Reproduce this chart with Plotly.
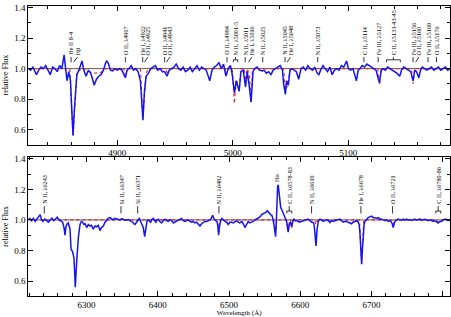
import plotly.graph_objects as go

# ---------------- data: top panel (4820-5190 A) ----------------
wl_top = [4823, 4825, 4827, 4829, 4830, 4832, 4834, 4836, 4838, 4840, 4842, 4844, 4846, 4848, 4850,
          4852, 4854, 4855, 4856.5, 4858, 4859.5, 4860.5, 4861.7, 4862.8, 4864, 4865, 4866.5, 4868,
          4869.5, 4871, 4873, 4875, 4877, 4879, 4880, 4882, 4884, 4886, 4888, 4890, 4891, 4892.5,
          4894, 4896, 4898, 4900, 4902, 4904, 4906, 4907, 4908.5, 4910, 4912, 4914, 4916, 4918,
          4920, 4921, 4922.2, 4923.5, 4925, 4927, 4929, 4931, 4933, 4935, 4937, 4939, 4941, 4943,
          4945, 4947, 4949, 4951, 4953, 4955, 4957, 4959, 4961, 4963, 4965, 4967, 4969, 4971, 4973,
          4975, 4977, 4980, 4982, 4984, 4986, 4988, 4990, 4992, 4994, 4996, 4998, 4999.5, 5001.4,
          5003, 5005.5, 5007, 5009, 5011, 5012.5, 5014, 5015.8, 5017.5, 5019, 5021, 5023, 5025.5,
          5027, 5029, 5031, 5033, 5035, 5037, 5039, 5041, 5043, 5044, 5045.5, 5046.5, 5048, 5049.5,
          5051, 5053, 5055, 5057, 5059, 5061, 5063, 5065, 5067, 5069, 5071, 5073, 5074.5, 5076, 5078,
          5080, 5082, 5084, 5086, 5088, 5090, 5092, 5094, 5096, 5098.5, 5100, 5102, 5104, 5106, 5107,
          5108.5, 5110, 5112, 5114, 5116, 5118, 5120, 5122, 5124, 5126, 5127, 5128.5, 5130, 5132,
          5134, 5136, 5138, 5140, 5142, 5144.5, 5146, 5148, 5150, 5152, 5154, 5156, 5157.5, 5159,
          5161, 5162.5, 5164, 5166, 5168, 5170, 5172, 5174, 5176, 5178, 5180, 5182, 5184, 5186, 5188]
flux_top = [1.00, 0.99, 1.01, 0.97, 0.96, 0.99, 1.01, 1.00, 1.02, 0.99, 0.96, 1.01, 1.00, 0.98, 1.02,
            1.00, 1.09, 1.02, 0.92, 0.98, 0.92, 0.75, 0.56, 0.72, 0.88, 0.96, 0.985, 1.02,
            1.05, 0.99, 0.95, 0.99, 0.97, 0.92, 0.89, 0.93, 0.95, 0.96, 0.99, 1.04, 1.05, 1.03,
            0.99, 0.985, 1.00, 0.99, 1.00, 0.99, 0.95, 0.94, 0.99, 1.00, 1.02, 0.99, 1.00, 0.98,
            0.92, 0.78, 0.66, 0.85, 0.95, 0.97, 1.00, 1.01, 1.02, 0.99, 1.00, 0.98, 0.98, 0.95,
            0.99, 1.00, 1.01, 1.03, 1.00, 0.99, 1.01, 0.98, 0.99, 1.01, 0.98, 1.00, 1.02, 0.99, 1.01,
            1.00, 0.99, 0.92, 0.99, 1.01, 1.02, 1.04, 1.00, 1.03, 0.95, 1.00, 1.02, 0.96, 0.84,
            0.92, 0.85, 0.98, 0.99, 0.88, 0.98, 0.90, 0.78, 0.98, 1.00, 1.01, 0.99, 0.985,
            0.99, 0.97, 0.98, 0.96, 0.99, 1.00, 1.01, 1.02, 0.99, 0.90, 0.83, 0.92, 0.89, 0.99,
            1.00, 0.99, 0.98, 0.93, 1.00, 1.01, 0.99, 1.02, 1.00, 0.99, 1.01, 0.97, 0.96, 0.99, 1.02,
            1.00, 0.98, 1.01, 0.96, 0.99, 1.00, 0.99, 1.02, 1.01, 1.05, 1.00, 0.99, 1.00, 0.94, 0.92,
            0.99, 1.00, 1.02, 1.01, 1.03, 1.02, 1.01, 1.00, 0.99, 0.93, 0.91, 0.99, 1.00, 0.99,
            1.01, 1.00, 0.99, 0.98, 0.97, 0.95, 0.99, 1.01, 1.00, 0.99, 0.98, 0.92, 0.99, 0.98,
            0.94, 0.99, 1.01, 1.00, 0.99, 1.00, 1.01, 0.99, 1.00, 1.01, 0.99, 1.00, 1.01, 0.99, 1.00]

model_wl_top = [4823, 4859, 4860, 4861.7, 4863.5, 4865, 4870, 4872, 4878, 4885, 4890, 4905.5, 4907,
                4908.5, 4920, 4921, 4922.2, 4923.5, 4925, 4927, 4942, 4943.5, 4945, 4993, 4994.5,
                4996, 4999.5, 5001.4, 5003, 5005.5, 5007, 5010, 5011, 5012.5, 5014.5, 5015.8, 5017,
                5044, 5045.5, 5047, 5048.5, 5050, 5125.5, 5127, 5128.5, 5154.5, 5156, 5157.5, 5188]
model_top = [1.0, 1.0, 0.80, 0.56, 0.80, 0.98, 1.0, 1.0, 0.97, 0.97, 1.0, 1.0, 0.95,
             1.0, 1.0, 0.80, 0.67, 0.82, 0.97, 1.0, 1.0, 0.96, 1.0, 1.0, 0.96,
             1.0, 1.0, 0.77, 0.93, 0.86, 1.0, 1.0, 0.90, 1.0, 0.95, 0.78, 1.0,
             1.0, 0.86, 0.88, 0.95, 1.0, 1.0, 0.89, 1.0, 1.0, 0.90, 1.0, 1.0]

# ---------------- data: bottom panel (6218-6810 A) ----------------
wl_bot = [6218.4, 6220.5, 6223, 6225.5, 6228, 6230.5, 6233, 6235, 6237, 6239, 6241.5, 6244, 6246.5,
          6249, 6251.5, 6254, 6256.5, 6259, 6261.5, 6264, 6266.6, 6268.5, 6269.8, 6271, 6272.2,
          6274.5, 6276.9, 6278.3, 6280.6, 6282.5, 6284.3, 6286.3, 6288.5, 6290.9, 6292.8, 6294.7,
          6296.3, 6297.9, 6300.3, 6302.5, 6304.9, 6307, 6309.5, 6312, 6314.3, 6316.5, 6318.9, 6321,
          6323.6, 6326, 6328.3, 6330.5, 6333, 6335.5, 6337.6, 6340, 6342.3, 6344.5, 6347, 6349.5,
          6351.6, 6354, 6356.4, 6358.5, 6361, 6363, 6364.8, 6366.5, 6368, 6369.5, 6371.2, 6372.5,
          6374, 6375.5, 6377.4, 6379.7, 6381.6, 6383.4, 6385, 6386.7, 6388.3, 6390, 6392, 6393.7,
          6395.5, 6397.5, 6399, 6400.7, 6403, 6405.5, 6407.8, 6410.1, 6412.5, 6414.7, 6417, 6419.5,
          6421.8, 6424.1, 6426.5, 6428.7, 6431, 6433.5, 6435.8, 6438.1, 6440.5, 6442.8, 6445,
          6447.5, 6450, 6452.2, 6454.5, 6456.8, 6459.2, 6461.5, 6463.8, 6466, 6468.6, 6471, 6473.2,
          6475, 6477, 6478.5, 6480.2, 6482, 6483.5, 6484.5, 6485.4, 6486.3, 6487.2, 6488.5, 6490,
          6492, 6494.2, 6496.5, 6498.9, 6501, 6503.6, 6506, 6508.3, 6510.5, 6512.9, 6515, 6517.7,
          6520, 6522.3, 6524.5, 6526.9, 6529, 6531.7, 6534, 6536.3, 6538.5, 6541, 6543.5, 6545.7,
          6548, 6550.3, 6552, 6553.6, 6555, 6556.4, 6558.3, 6560, 6561.1, 6563, 6564.3, 6565.3,
          6566, 6566.8, 6567.5, 6568.2, 6569, 6570, 6571.4, 6572.5, 6573.7, 6575.5, 6577, 6579,
          6580.8, 6582, 6583, 6584.2, 6585.4, 6586.5, 6587.8, 6589.5, 6591, 6593, 6594.8, 6597,
          6599.4, 6601.5, 6604.1, 6606.5, 6609, 6611.1, 6613.5, 6615.8, 6617.5, 6619.1, 6620.2,
          6620.9, 6621.9, 6622.6, 6623.3, 6625.1, 6627.5, 6629.8, 6632.1, 6634.5, 6636.9, 6639,
          6641.5, 6643.8, 6646.1, 6648.5, 6650.9, 6653, 6655.5, 6658, 6660, 6662.5, 6665, 6667.2,
          6669.5, 6671.9, 6674, 6676.6, 6679, 6681.2, 6682.5, 6683.6, 6684.8, 6686, 6687, 6688.2,
          6689.5, 6690.6, 6693, 6695.2, 6697.5, 6700, 6702.3, 6704.6, 6707, 6709.2, 6712, 6714,
          6716.3, 6719, 6721, 6723.3, 6725.5, 6728, 6729.3, 6730.3, 6731.4, 6732.7, 6735, 6737.3,
          6739.5, 6742.1, 6744.5, 6747, 6749.1, 6751.5, 6754, 6756, 6758.3, 6760.5, 6763, 6765.5,
          6767.7, 6770, 6772.5, 6775, 6777.1, 6779.5, 6782, 6784.3, 6786.4, 6788.5, 6791, 6793.4,
          6795.5, 6798.1, 6800.5, 6803, 6805.1, 6807.5, 6809.7]
flux_bot = [1.00, 1.01, 0.995, 1.01, 0.99, 1.005, 1.02, 1.035, 1.00, 0.99, 1.005, 0.995, 0.985,
            1.00, 1.012, 0.995, 1.005, 1.018, 1.00, 0.99, 0.985, 0.95, 0.90, 0.95, 0.97,
            0.98, 0.94, 0.81, 0.79, 0.75, 0.56, 0.73, 0.88, 0.97, 0.99, 0.985,
            0.97, 0.975, 0.95, 0.97, 0.96, 0.965, 0.94, 0.96, 0.955, 0.965, 0.93, 0.95,
            0.96, 0.985, 1.00, 1.01, 1.015, 1.005, 1.00, 1.01, 1.005, 1.00, 1.00, 1.008,
            1.005, 0.998, 1.00, 1.003, 0.995, 0.99, 0.985, 0.975, 0.97, 0.98, 0.99, 1.005,
            1.01, 0.995, 0.97, 0.95, 0.89, 0.97, 0.995, 1.00, 0.99, 0.985, 1.005, 1.01,
            0.995, 0.985, 1.00, 1.005, 0.99, 0.98, 0.995, 1.005, 0.995, 0.99, 1.00, 0.995,
            0.98, 0.985, 0.995, 1.00, 1.005, 1.01, 0.995, 0.99, 0.995, 1.00, 0.99,
            0.985, 0.99, 0.98, 0.985, 0.975, 0.96, 0.975, 0.98, 0.99, 0.99, 0.995, 1.00,
            1.01, 1.03, 1.01, 1.00, 0.99, 0.985, 0.95, 0.90, 0.95, 0.985, 1.00, 1.01,
            1.00, 0.99, 0.985, 0.97, 0.985, 0.985, 0.98, 0.99, 0.995, 0.985, 0.98, 0.99,
            0.975, 0.95, 0.975, 0.99, 0.98, 0.985, 0.99, 1.00, 1.005, 1.015, 1.02, 1.035,
            1.04, 1.045, 1.05, 1.06, 1.05, 1.045, 1.035, 1.03, 1.015, 0.97, 0.92, 0.89,
            0.95, 1.07, 1.15, 1.22, 1.23, 1.19, 1.11, 1.08, 1.07, 1.05, 1.035, 1.02,
            0.99, 0.95, 0.92, 0.96, 0.985, 0.98, 0.96, 0.99, 1.005, 0.995, 0.995, 0.99,
            0.985, 0.99, 0.995, 1.00, 1.00, 1.005, 0.995, 0.985, 0.985, 0.975, 0.93,
            0.88, 0.83, 0.87, 0.93, 0.99, 1.005, 1.00, 0.99, 0.995, 1.00, 0.995,
            0.985, 0.995, 0.99, 0.995, 1.00, 1.00, 1.005, 0.995, 0.985, 0.99, 0.99, 0.985,
            0.98, 0.975, 0.985, 0.99, 0.995, 0.985, 0.97, 0.92, 0.82, 0.71, 0.80, 0.90,
            0.97, 0.99, 1.005, 1.015, 1.02, 1.025, 1.015, 1.015, 1.01, 1.015, 1.005, 1.005,
            1.00, 0.995, 1.00, 0.99, 0.995, 0.985, 0.97, 0.95, 0.97, 0.99, 1.00, 1.005,
            1.00, 1.00, 1.005, 0.998, 1.005, 1.00, 1.003, 0.997, 1.00, 1.005, 1.00, 1.002,
            1.005, 0.998, 1.00, 1.004, 1.00, 0.995, 1.00, 0.995, 0.99, 0.995, 0.985, 0.98,
            0.99, 0.99, 1.00, 1.005, 1.00, 0.995, 1.00]

model_wl_bot = [6218.4, 6483.5, 6485.4, 6487, 6563, 6565.3, 6567, 6581, 6583, 6585, 6586.5, 6588,
                6590, 6620, 6621.9, 6624, 6640, 6641.5, 6643, 6683, 6686, 6689, 6728.5, 6730.3,
                6732, 6791, 6793.4, 6796, 6810]
model_bot = [1.0, 1.0, 0.91, 1.0, 1.0, 0.93, 1.0, 1.0, 0.93, 1.0, 1.0, 0.94,
             1.0, 1.0, 0.97, 1.0, 1.0, 0.975, 1.0, 1.0, 0.72, 1.0, 1.0, 0.95,
             1.0, 1.0, 0.985, 1.0, 1.0]

# ---------------- line identifications ----------------
# (text, line wavelength, text wavelength, kind, bracket start, bracket end)
labels_top = [
    ("He II 8-4", 4860, 4860, "tick", None, None),
    ("Hβ", 4862.2, 4865.5, "slant", None, None),
    ("O II, λ4907", 4907, 4907, "tick", None, None),
    ("He I, λ4922", 4922, 4922, "tick", None, None),
    ("O II, λ4925", 4923.5, 4926.5, "slant", None, None),
    ("O II, λ4941", 4941, 4941, "tick", None, None),
    ("O II, λ4943", 4942.5, 4945.5, "slant", None, None),
    ("O II, λ4994", 4995, 4995, "tick", None, None),
    ("N II, λ5001-5", 5002.3, 5002.3, "bracket", 5000.5, 5004.2),
    ("N II, λ5011", 5010.7, 5010.7, "tick", None, None),
    ("He I, λ5016", 5013.5, 5016.6, "slant", None, None),
    ("N II, λ5025", 5025.9, 5025.9, "tick", None, None),
    ("N II, λ5045", 5045.2, 5045.2, "tick", None, None),
    ("He I, λ5048", 5047, 5050, "slant", None, None),
    ("N II, λ5073", 5073.5, 5073.5, "tick", None, None),
    ("C II, λ5114", 5113.5, 5113.5, "tick", None, None),
    ("Fe III, λ5127", 5125.8, 5125.8, "tick", None, None),
    ("C II, λ5133-43-45", 5139, 5139, "bracket", 5133, 5145),
    ("Fe III, λ5156", 5156, 5156, "tick", None, None),
    ("O II, λ5160", 5158.3, 5161, "slant", None, None),
    ("Fe III, λ5169", 5169, 5169, "tick", None, None),
    ("O II, λ5176", 5176.3, 5176.3, "tick", None, None),
]
labels_bot = [
    ("N II, λ6243", 6240.8, 6240.8, "tick", None, None),
    ("Si II, λ6347", 6348.4, 6348.4, "tick", None, None),
    ("Si II, λ6371", 6371.8, 6371.8, "tick", None, None),
    ("N II, λ6482", 6485.8, 6485.8, "tick", None, None),
    ("Hα", 6567.6, 6567.6, "none", None, None),
    ("C II, λ6578-83", 6584.4, 6584.4, "bracket", 6581, 6588),
    ("N II, λ6610", 6615.8, 6615.8, "tick", None, None),
    ("He I, λ6678", 6685, 6685, "tick", None, None),
    ("O II, λ6721", 6729.4, 6729.4, "tick", None, None),
    ("C II, λ6780-86", 6793.4, 6793.4, "bracket", 6790, 6797),
]

SERIF = "Liberation Serif"
BLUE = "#1414f0"
RED = "#d83030"

fig = go.Figure()
for wl, fl, mwl, mfl, xa, ya in [(wl_top, flux_top, model_wl_top, model_top, "x", "y"),
                                  (wl_bot, flux_bot, model_wl_bot, model_bot, "x2", "y2")]:
    fig.add_trace(go.Scatter(x=mwl, y=mfl, mode="lines", xaxis=xa, yaxis=ya,
                             line=dict(color=RED, width=1.2, dash="dot"), showlegend=False,
                             hoverinfo="skip"))
    fig.add_trace(go.Scatter(x=wl, y=fl, mode="lines", xaxis=xa, yaxis=ya,
                             line=dict(color=BLUE, width=1.5), showlegend=False))

shapes = []
annotations = []

def add_labels(labels, xref, yref, text_y, tick_top):
    for text, lw, tw, kind, b0, b1 in labels:
        if kind == "tick":
            shapes.append(dict(type="line", xref=xref, yref=yref, x0=lw, x1=lw, y0=1.042, y1=tick_top,
                               line=dict(color="black", width=0.8)))
        elif kind == "slant":
            shapes.append(dict(type="line", xref=xref, yref=yref, x0=lw, x1=tw, y0=1.042, y1=tick_top,
                               line=dict(color="black", width=0.8)))
        elif kind == "bracket":
            mid = 1.058
            shapes.append(dict(type="line", xref=xref, yref=yref, x0=b0, x1=b1, y0=mid, y1=mid,
                               line=dict(color="black", width=0.8)))
            for bx in (b0, b1):
                shapes.append(dict(type="line", xref=xref, yref=yref, x0=bx, x1=bx, y0=1.042, y1=mid,
                                   line=dict(color="black", width=0.8)))
            shapes.append(dict(type="line", xref=xref, yref=yref, x0=tw, x1=tw, y0=mid, y1=tick_top,
                               line=dict(color="black", width=0.8)))
        ty = text_y if kind != "none" else 1.243
        annotations.append(dict(x=tw, y=ty, xref=xref, yref=yref, text=text, textangle=-90,
                                showarrow=False, xanchor="center", yanchor="bottom", borderpad=0,
                                font=dict(family=SERIF, size=6.2, color="black")))

add_labels(labels_top, "x", "y", 1.082, 1.076)
add_labels(labels_bot, "x2", "y2", 1.098, 1.09)

# continuum reference lines at 1.0
for xref, yref, x0, x1 in [("x", "y", 4823, 5188), ("x2", "y2", 6218.4, 6810)]:
    shapes.append(dict(type="line", xref=xref, yref=yref, x0=x0, x1=x1, y0=1.0, y1=1.0,
                       line=dict(color="#6a4040", width=0.9), layer="below"))

axis_common = dict(showline=True, linecolor="black", linewidth=1, mirror="allticks",
                   ticks="inside", ticklen=5, tickcolor="black", showgrid=False, zeroline=False,
                   tickfont=dict(family=SERIF, size=9, color="black"))

fig.update_layout(
    width=451, height=317, margin=dict(l=0, r=0, t=0, b=0),
    paper_bgcolor="white", plot_bgcolor="white",
    xaxis=dict(domain=[0.0628, 0.9978], anchor="y", range=[4823, 5188], dtick=100, tick0=0,
               minor=dict(dtick=20, ticks="inside", ticklen=3, tickcolor="black"), **axis_common),
    yaxis=dict(domain=[0.549, 0.992], anchor="x", range=[0.5, 1.415], dtick=0.2, tick0=0,
               tickformat=".1f",
               minor=dict(dtick=0.1, ticks="inside", ticklen=3, tickcolor="black"),
               title=dict(text="relative Flux", font=dict(family=SERIF, size=8, color="black"),
                          standoff=4), **axis_common),
    xaxis2=dict(domain=[0.0628, 0.9978], anchor="y2", range=[6218.4, 6810], dtick=100, tick0=0,
                minor=dict(dtick=20, ticks="inside", ticklen=3, tickcolor="black"),
                title=dict(text="Wavelength (Å)", font=dict(family=SERIF, size=7, color="black"),
                           standoff=2), **axis_common),
    yaxis2=dict(domain=[0.066, 0.511], anchor="x2", range=[0.5, 1.415], dtick=0.2, tick0=0,
                tickformat=".1f",
                minor=dict(dtick=0.1, ticks="inside", ticklen=3, tickcolor="black"),
                title=dict(text="relative Flux", font=dict(family=SERIF, size=8, color="black"),
                           standoff=4), **axis_common),
    shapes=shapes, annotations=annotations,
)

fig.write_html("out.html")
